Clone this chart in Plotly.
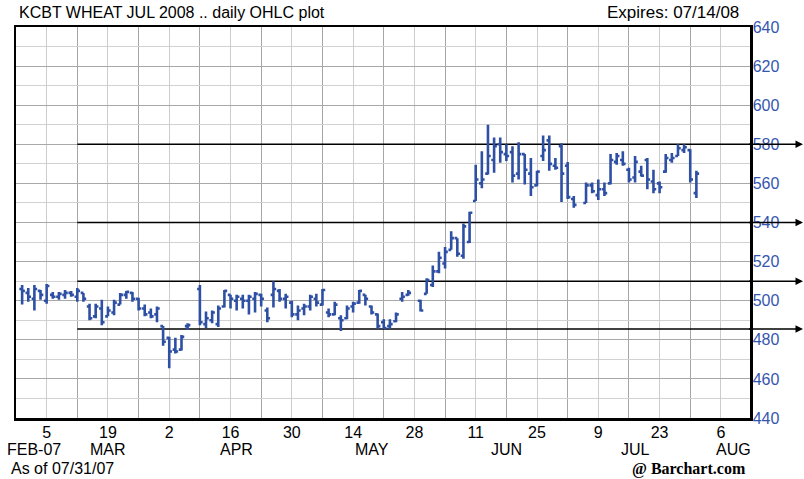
import plotly.graph_objects as go

# ---- data ----
dates = [
    "2007-02-27", "2007-02-28",
    "2007-03-01", "2007-03-02", "2007-03-05", "2007-03-06", "2007-03-07", "2007-03-08", "2007-03-09",
    "2007-03-12", "2007-03-13", "2007-03-14", "2007-03-15", "2007-03-16", "2007-03-19", "2007-03-20",
    "2007-03-21", "2007-03-22", "2007-03-23", "2007-03-26", "2007-03-27", "2007-03-28", "2007-03-29",
    "2007-03-30",
    "2007-04-02", "2007-04-03", "2007-04-04", "2007-04-05", "2007-04-09", "2007-04-10", "2007-04-11",
    "2007-04-12", "2007-04-13", "2007-04-16", "2007-04-17", "2007-04-18", "2007-04-19", "2007-04-20",
    "2007-04-23", "2007-04-24", "2007-04-25", "2007-04-26", "2007-04-27", "2007-04-30",
    "2007-05-01", "2007-05-02", "2007-05-03", "2007-05-04", "2007-05-07", "2007-05-08", "2007-05-09",
    "2007-05-10", "2007-05-11", "2007-05-14", "2007-05-15", "2007-05-16", "2007-05-17", "2007-05-18",
    "2007-05-21", "2007-05-22", "2007-05-23", "2007-05-24", "2007-05-25", "2007-05-29", "2007-05-30",
    "2007-05-31",
    "2007-06-01", "2007-06-04", "2007-06-05", "2007-06-06", "2007-06-07", "2007-06-08", "2007-06-11",
    "2007-06-12", "2007-06-13", "2007-06-14", "2007-06-15", "2007-06-18", "2007-06-19", "2007-06-20",
    "2007-06-21", "2007-06-22", "2007-06-25", "2007-06-26", "2007-06-27", "2007-06-28", "2007-06-29",
    "2007-07-02", "2007-07-03", "2007-07-05", "2007-07-06", "2007-07-09", "2007-07-10", "2007-07-11",
    "2007-07-12", "2007-07-13", "2007-07-16", "2007-07-17", "2007-07-18", "2007-07-19", "2007-07-20",
    "2007-07-23", "2007-07-24", "2007-07-25", "2007-07-26", "2007-07-27", "2007-07-30", "2007-07-31",
]

opens = [506, 504, 501, 505, 500, 503, 502, 503, 504, 502, 504, 497, 492, 496, 492, 494, 498, 503, 504, 501,
         496, 494, 493, 487, 481, 475, 475, 487,
         506, 488, 490, 488, 497, 503, 500, 501, 500, 501, 503, 495, 503, 505, 501, 499,
         493, 496, 497, 501, 498, 494, 493, 491, 491, 497, 499, 503, 497, 493, 489, 487, 489.5, 501, 503,
         500, 503.5, 508,
         515, 519, 526, 532, 523, 530, 551, 560, 565, 572, 580, 575, 576, 565, 575, 565, 559, 574, 582, 569, 579,
         569, 552, 550, 559, 554, 557, 560, 571, 572, 567, 563, 566, 572, 561, 560, 566, 572, 574, 577, 577, 555]

highs = [508, 506.5, 508, 505.5, 508.5, 504.5, 504.5, 505.5, 505, 506.5, 504, 498.5, 498.5, 500.5, 497, 500.5,
         504, 505, 504.5, 501.5, 498, 496, 497, 487, 481.5, 481, 482.5, 488.5,
         508, 494.5, 495, 497.5, 505.5, 503, 503, 503, 503, 504.5, 503.5, 496.5, 510, 506, 503.5, 500,
         497.5, 498.5, 503, 503.5, 506, 496, 499.5, 492.5, 497.5, 499.5, 505.5, 503, 497.5, 493.5, 490.5,
         490.5, 494, 504.5, 505.5, 500.5, 511.5, 518,
         525, 527.5, 535.5, 532, 539.5, 545.5, 569.5, 576.5, 590, 583.5, 583.5, 580, 579, 581, 575, 573,
         566.5, 584.5, 584.5, 573, 580.5,
         571, 553.5, 560.5, 560.5, 562, 560.5, 575, 575.5, 576.5, 568, 574, 569, 573, 567, 561, 575, 575.5,
         580, 580, 577.5, 566.5]

lows = [498, 499.5, 495, 500.5, 498.5, 501, 500.5, 501, 502, 499.5, 499.5, 490, 491, 487.5, 492, 492.5, 498,
        501, 499.5, 495, 492, 491, 489, 477, 465.5, 473, 474.5, 485,
        487.5, 486, 488.5, 486.5, 496.5, 496, 495, 496, 493, 494, 497, 489, 496.5, 499.5, 496, 491.5,
        490, 492.5, 495, 497, 497.5, 491.5, 492.5, 484.5, 490.5, 494, 498.5, 497.5, 493, 485.5, 485.5,
        485.5, 489, 499.5, 502.5, 494.5, 503.5, 507,
        514, 516.5, 526, 522.5, 521.5, 529.5, 551, 557.5, 564.5, 565.5, 570.5, 571.5, 560.5, 562, 559.5,
        553.5, 558.5, 571.5, 566.5, 567, 550.5,
        552, 547.5, 550, 555, 551.5, 553.5, 559.5, 569.5, 569, 560.5, 560.5, 563.5, 557, 555, 555, 565.5,
        570.5, 574, 575.5, 560.5, 552.5]

closes = [505, 502, 506, 503, 507.5, 502, 503.5, 504, 503, 505, 501, 491, 497, 489, 495, 499, 503, 504.5, 501,
          496, 493, 492, 496, 479, 474, 474, 481.5, 487.5,
          489, 491, 494, 496, 505, 501, 502, 500, 502, 503.5, 501, 491, 506, 501, 502, 493,
          495, 497, 502, 499, 505.5, 493, 498, 490, 496, 498.5, 505, 501, 494, 487, 486, 488, 493, 502, 504,
          495, 510.5, 515,
          522, 525, 532, 524, 538, 545, 562, 562, 574, 579, 576, 574, 564, 575, 567, 558, 566, 577, 570, 568, 565,
          553, 549, 559, 556, 557, 555, 572, 574, 570, 562, 571, 564, 562, 557, 558, 573, 573, 578, 578.5, 562, 565]

tick_dates = ["2007-03-05", "2007-03-19", "2007-04-02", "2007-04-16", "2007-04-30", "2007-05-14",
              "2007-05-28", "2007-06-11", "2007-06-25", "2007-07-09", "2007-07-23", "2007-08-06"]
tick_text = ["5", "19", "2", "16", "30", "14", "28", "11", "25", "9", "23", "6"]
week_dates = ["2007-03-12", "2007-03-26", "2007-04-09", "2007-04-23", "2007-05-07", "2007-05-21",
              "2007-06-04", "2007-06-18", "2007-07-02", "2007-07-16", "2007-07-30"]
month_labels = ["FEB-07", "MAR", "APR", "MAY", "JUN", "JUL", "AUG"]
month_label_dates = ["2007-03-01", "2007-03-19", "2007-04-17", "2007-05-17", "2007-06-18", "2007-07-17",
                     "2007-08-08"]
level_values = [580, 540, 510, 485.5]
level_start = "2007-03-12"
x_range = ["2007-02-26", "2007-08-10 18:00"]

BAR = "#2E50A4"
BLUE_TXT = "#3556AE"
FONT = "Liberation Sans"

fig = go.Figure()
fig.add_trace(go.Ohlc(
    x=dates, open=opens, high=highs, low=lows, close=closes,
    increasing=dict(line=dict(color=BAR, width=2.6)),
    decreasing=dict(line=dict(color=BAR, width=2.6)),
    tickwidth=0.45, hoverinfo="skip", showlegend=False,
))

shapes = []
annotations = []
for v in level_values:
    shapes.append(dict(type="line", xref="x", yref="y", x0=level_start, x1=x_range[1], y0=v, y1=v,
                       line=dict(color="black", width=1.5), layer="between"))
    annotations.append(dict(xref="paper", yref="y", x=1.073, y=v, ax=-56, ay=0, axref="pixel",
                            ayref="pixel", showarrow=True, arrowhead=2, arrowsize=1, arrowwidth=1.5,
                            arrowcolor="black", text=""))

for lbl, d in zip(month_labels, month_label_dates):
    annotations.append(dict(xref="x", yref="paper", x=d, y=-0.080, text=lbl, showarrow=False,
                            xanchor="center", yanchor="middle",
                            font=dict(family=FONT, size=16, color="black")))

annotations += [
    dict(xref="paper", yref="paper", x=0.002, y=1.038, text="KCBT WHEAT JUL 2008 .. daily OHLC plot",
         showarrow=False, xanchor="left", yanchor="middle", font=dict(family=FONT, size=16, color="black")),
    dict(xref="paper", yref="paper", x=0.988, y=1.038, text="Expires: 07/14/08",
         showarrow=False, xanchor="right", yanchor="middle", font=dict(family=FONT, size=17, color="black")),
    dict(xref="paper", yref="paper", x=-0.009, y=-0.128, text="As of 07/31/07",
         showarrow=False, xanchor="left", yanchor="middle", font=dict(family=FONT, size=16, color="black")),
    dict(xref="paper", yref="paper", x=0.997, y=-0.130, text="<b>@ Barchart.com</b>",
         showarrow=False, xanchor="right", yanchor="middle",
         font=dict(family="Liberation Serif", size=16, color="black")),
]

fig.update_layout(
    width=804, height=479,
    margin=dict(l=16, r=54, t=27, b=61, autoexpand=False),
    paper_bgcolor="white", plot_bgcolor="white",
    showlegend=False, hovermode=False,
    shapes=shapes, annotations=annotations,
    font=dict(family=FONT, size=16, color="black"),
    xaxis=dict(
        type="date", range=x_range,
        rangebreaks=[dict(bounds=["sat", "mon"])],
        rangeslider=dict(visible=False),
        tickmode="array", tickvals=tick_dates, ticktext=tick_text,
        tickfont=dict(family=FONT, size=16, color="black"),
        ticks="", ticklen=0, ticklabelstandoff=-2,
        showgrid=True, gridcolor="#cccccc", gridwidth=1,
        minor=dict(tickmode="array", tickvals=week_dates, showgrid=True, gridcolor="#a6a6a6", gridwidth=1),
        showline=True, linecolor="black", linewidth=2.5, mirror=True,
        zeroline=False, fixedrange=True, automargin=False,
    ),
    yaxis=dict(
        side="right", range=[440, 640], tick0=440, dtick=20,
        tickfont=dict(family=FONT, size=16, color=BLUE_TXT),
        ticks="", ticklen=0, ticklabelstandoff=-3,
        showgrid=True, gridcolor="#a8a8a8", gridwidth=1,
        minor=dict(dtick=10, tick0=440, showgrid=True, gridcolor="#d2d2d2", gridwidth=1),
        showline=True, linecolor="black", linewidth=2.5, mirror=True,
        zeroline=False, fixedrange=True, automargin=False,
    ),
)

# remove the browser's default 8px page margin so the figure sits at the window's corner
fig.write_html("out.html", config={"displayModeBar": False, "staticPlot": True},
               post_script="document.body.style.margin='0px';")
